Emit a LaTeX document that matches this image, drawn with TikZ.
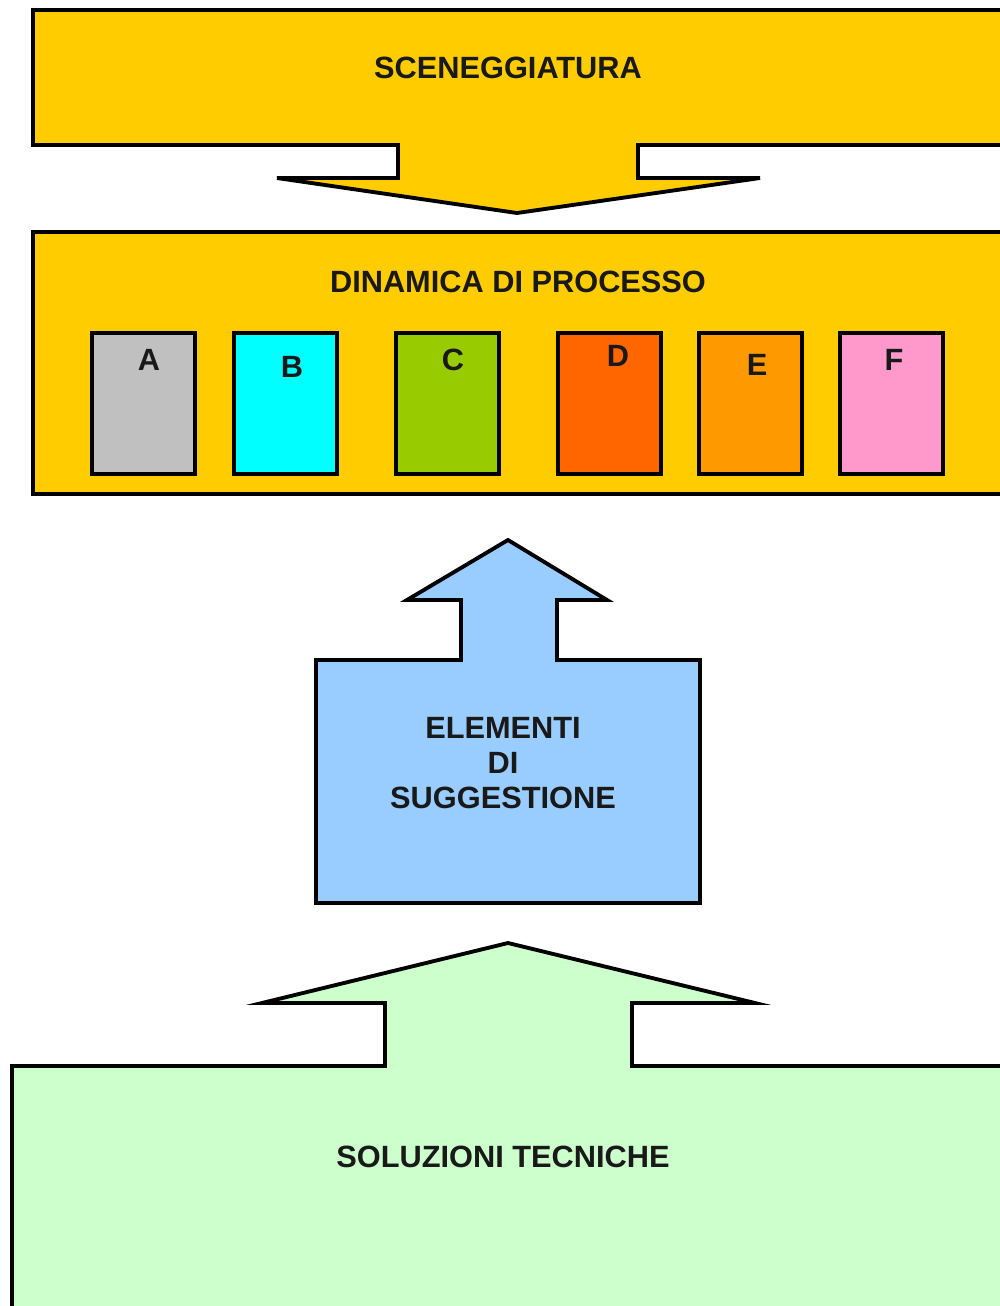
\documentclass[tikz,border=0pt]{standalone}
\usepackage{fontspec}
\setmainfont{Liberation Sans}
\definecolor{giallo}{HTML}{FFCC00}
\definecolor{azzurro}{HTML}{99CCFF}
\definecolor{verdino}{HTML}{CCFFCC}
\definecolor{grigio}{HTML}{C0C0C0}
\definecolor{ciano}{HTML}{00FFFF}
\definecolor{oliva}{HTML}{99CC00}
\definecolor{arancio}{HTML}{FF6600}
\definecolor{ambra}{HTML}{FF9900}
\definecolor{rosa}{HTML}{FF99CC}
\tikzset{
  blocco/.style={draw=black,line width=2.2pt,line join=miter},
  titolo/.style={font=\fontsize{17.5}{20}\selectfont\bfseries,text=black!90,inner sep=0pt,align=center},
  lettera/.style={font=\fontsize{17.5}{20}\selectfont\bfseries,text=black!90,inner sep=0pt}
}
\begin{document}
\begin{tikzpicture}[x=0.2mm,y=-0.2mm]
		\useasboundingbox (0,0) rectangle (1000,1306);
		\clip (0,0) rectangle (1000,1306);
		% sceneggiatura
		\draw[blocco,fill=giallo] (33,10) -- (1012,10) -- (1012,145) -- (638,145) -- (638,178) -- (760,178) -- (517,213) -- (277,178) -- (398,178) -- (398,145) -- (33,145) -- cycle;
		\node[titolo] (scen) at (508,68) {SCENEGGIATURA};
		% dinamica di processo
		\draw[blocco,fill=giallo] (33,232) rectangle (1012,494);
		\node[titolo] (dinamica) at (518,282) {DINAMICA DI PROCESSO};
		\foreach \n/\x/\c/\lx/\ly in {A/92/grigio/149/360,B/234/ciano/292/367,C/396/oliva/453/360,D/558/arancio/618/356,E/699/ambra/757/365,F/840/rosa/894/360}
		{
			\draw[blocco,fill=\c] (\x,333) rectangle ++(103,141);
			\node[lettera] (fase\n) at (\lx,\ly) {\n};
		}
		% elementi di suggestione
		\draw[blocco,fill=azzurro] (316,660) -- (461,660) -- (461,600) -- (407,600) -- (508,540) -- (607,600) -- (557,600) -- (557,660) -- (700,660) -- (700,903) -- (316,903) -- cycle;
		\node[titolo] (elementi) at (503,763) {ELEMENTI\\DI\\SUGGESTIONE};
		% soluzioni tecniche
		\draw[blocco,fill=verdino] (12,1066) -- (385,1066) -- (385,1003) -- (262,1003) -- (508,943) -- (755,1003) -- (632,1003) -- (632,1066) -- (1012,1066) -- (1012,1316) -- (12,1316) -- cycle;
		\node[titolo] (soluzioni) at (503,1157) {SOLUZIONI TECNICHE};
\end{tikzpicture}
\end{document}
